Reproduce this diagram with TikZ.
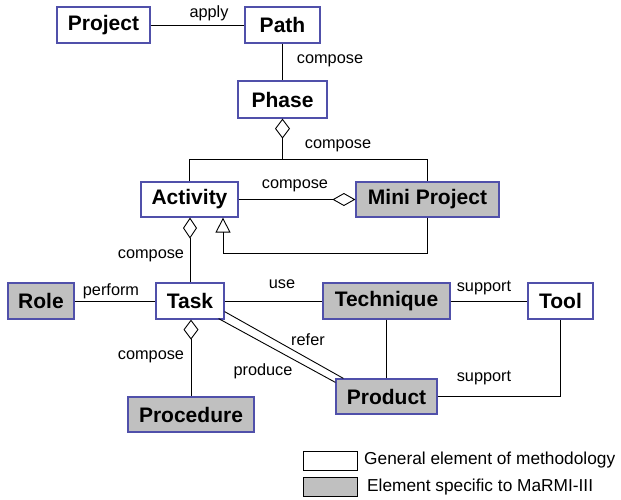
\documentclass[tikz,border=0pt]{standalone}
\usepackage{fontspec}
\setmainfont{Liberation Sans}
\usetikzlibrary{arrows.meta,calc}
\definecolor{boxblue}{RGB}{80,80,170}
\definecolor{boxgray}{RGB}{192,192,192}
\tikzset{
  elem/.style={draw=boxblue,line width=1.2pt,fill=white,inner sep=0pt,minimum height=36pt,font=\fontsize{21}{23}\selectfont\bfseries},
  spec/.style={elem,fill=boxgray},
  conn/.style={draw=black,line width=0.9pt},
  lbl/.style={font=\fontsize{16.3}{18}\selectfont,inner sep=0pt},
  aggtip/.tip={Diamond[open,length=20pt,width=15pt,line width=0.9pt]},
  aggtipb/.tip={Diamond[open,length=21pt,width=14pt,line width=0.9pt]},
  aggtipc/.tip={Diamond[open,length=23pt,width=13pt,line width=0.9pt]},
  gentip/.tip={Triangle[open,length=15pt,width=15pt,line width=0.9pt]},
  legbox/.style={draw=black,line width=1pt,inner sep=0pt,minimum width=54pt,minimum height=19pt},
  legtxt/.style={font=\fontsize{17.3}{19}\selectfont,inner sep=0pt,anchor=west}
}
\begin{document}
\begin{tikzpicture}[x=1pt,y=-1pt]
\useasboundingbox (0,0) rectangle (621,499);
% nodes
\node[elem,minimum width=93pt] (project) at (103.5,25) {Project};
\node[elem,minimum width=75pt] (path) at (282.5,25) {Path};
\node[elem,minimum width=89pt,minimum height=37pt] (phase) at (282.5,99.5) {Phase};
\node[elem,minimum width=97pt,minimum height=35pt] (activity) at (189.5,199.5) {Activity};
\node[spec,minimum width=143pt,minimum height=35pt] (mini) at (427.5,199.5) {Mini Project};
\node[spec,minimum width=66pt] (role) at (41,301) {Role};
\node[elem,minimum width=68pt] (task) at (190,301) {Task};
\node[spec,minimum width=127pt] (technique) at (386.5,301) {Technique};
\node[elem,minimum width=65pt] (tool) at (560.5,301) {Tool};
\node[spec,minimum width=126pt,minimum height=35pt] (procedure) at (191,414.5) {Procedure};
\node[spec,minimum width=101pt,minimum height=35pt] (product) at (386.5,396.5) {Product};
% coordinates
\coordinate (junc) at (phase.south |- 0,159);
\coordinate (jl) at (activity.north |- 0,159);
\coordinate (jr) at (mini.north |- 0,159);
\coordinate (gl) at (223,253);
\coordinate (gr) at (mini.south |- 0,253);
% connectors
\draw[conn] (project.east |- path.west) -- (path.west);
\draw[conn] (path.south) -- (phase.north);
\draw[conn,aggtip-] (phase.south) -- (junc);
\draw[conn] (jl) -- (jr);
\draw[conn] (jl) -- (activity.north);
\draw[conn] (jr) -- (mini.north);
\draw[conn,-aggtipc] (activity.east) -- (mini.west);
\draw[conn,aggtipb-] (activity.south -| task.north) -- (task.north);
\draw[conn,-gentip] (mini.south) -- (gr) -- (gl) -- (gl |- activity.south);
\draw[conn] (role.east) -- (task.west);
\draw[conn] (task.east) -- (technique.west);
\draw[conn] (technique.east) -- (tool.west);
\draw[conn,aggtip-] (task.south -| procedure.north) -- (procedure.north);
\draw[conn] (technique.south -| product.north) -- (product.north);
\draw[conn] (product.east) -| (tool.south);
\draw[conn] ($(task.south east)+(0,-8)$) -- ($(product.north west)+(8,0)$);
\draw[conn] ($(task.south east)+(-6,-1)$) -- ($(product.north west)+(0,4)$);
% labels
\node[lbl] (l1) at (209,13) {apply};
\node[lbl] (l2) at (330,61) {compose};
\node[lbl] (l3) at (338,146) {compose};
\node[lbl] (l4) at (295,186) {compose};
\node[lbl] (l5) at (151,256) {compose};
\node[lbl] (l6) at (111,291) {perform};
\node[lbl] (l7) at (282,284) {use};
\node[lbl] (l8) at (484,288) {support};
\node[lbl] (l9) at (308,340) {refer};
\node[lbl] (l10) at (263,371) {produce};
\node[lbl] (l11) at (151,357) {compose};
\node[lbl] (l12) at (484,378) {support};
% legend
\node[legbox,fill=white] (lg1) at (330,460.5) {};
\node[legbox,fill=boxgray] (lg2) at (330,487) {};
\node[legtxt] (lt1) at (364,460) {General element of methodology};
\node[legtxt] (lt2) at (367,487) {Element specific to MaRMI-III};
\end{tikzpicture}
\end{document}
